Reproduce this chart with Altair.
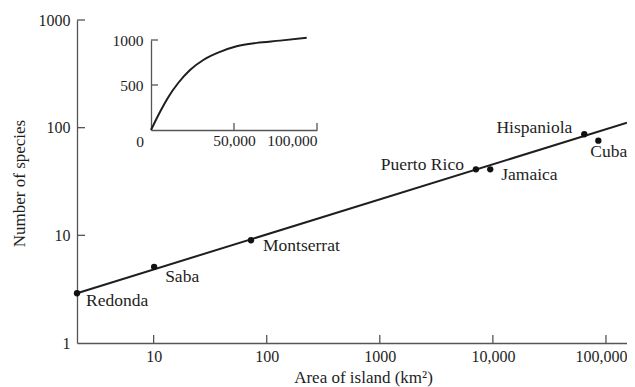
import altair as alt
import pandas as pd

# ---- data ----
islands = ["Redonda", "Saba", "Montserrat", "Puerto Rico", "Jamaica", "Hispaniola", "Cuba"]
areas = [2.1, 10.1, 72.6, 7080, 9480, 64300, 85600]
species = [2.9, 5.1, 9.0, 41, 41, 86.8, 75.7]

fit_area = [2.1, 153500]
fit_species = [2.9, 111]

x_ticks = [10, 100, 1000, 10000, 100000]
y_ticks = [1, 10, 100, 1000]

inset_area = [0, 5400, 10400, 16500, 23500, 31500, 41600, 51600, 63700, 77700, 93800]
inset_species = [0, 200, 365, 525, 667, 778, 868, 930, 968, 993, 1026]
inset_x_ticks = [50000, 100000]
inset_y_ticks = [500, 1000]

FONT = "Liberation Serif"
INK = "#1e1e1e"

pts = pd.DataFrame({"island": islands, "area": areas, "species": species})
fit = pd.DataFrame({"area": fit_area, "species": fit_species})
xt = pd.DataFrame({"area": x_ticks})
yt = pd.DataFrame({"species": y_ticks[1:]})
ins = pd.DataFrame({"a": inset_area, "s": inset_species})
ixt = pd.DataFrame({"a": inset_x_ticks})
iyt = pd.DataFrame({"s": inset_y_ticks})
origin = pd.DataFrame({"a": [0], "s": [0], "t": ["0"]})

W, H = 550, 323

x_scale = alt.Scale(type="log", domain=[2.1, 153500], nice=False)
y_scale = alt.Scale(type="log", domain=[1, 1000], nice=False)

x_axis = alt.Axis(
    values=x_ticks,
    labelExpr="datum.value >= 10000 ? format(datum.value, ',') : format(datum.value, 'd')",
    labelOffset={"condition": {"test": "datum.value >= 100000", "value": -5}, "value": 0},
    title="Area of island (km²)",
    labelFontSize=16, labelPadding=5, titleFontSize=17,
    titleX=286, titleY=34, titleBaseline="middle",
)
y_axis = alt.Axis(
    values=y_ticks, format="d",
    title="Number of species",
    labelFontSize=16, labelPadding=7, titleFontSize=17,
    titleX=-58, titleY=163, titleAngle=270, titleBaseline="middle", titleAlign="center",
)

X = alt.X("area:Q", scale=x_scale, axis=x_axis)
Y = alt.Y("species:Q", scale=y_scale, axis=y_axis)

line = alt.Chart(fit).mark_line(color=INK, strokeWidth=2).encode(x=X, y=Y)
dots = alt.Chart(pts).mark_circle(color="#111", opacity=1, size=40).encode(x=X, y=Y)

offsets = {
    "Redonda": ("left", 9, 8),
    "Saba": ("left", 11, 10),
    "Montserrat": ("left", 12, 6),
    "Puerto Rico": ("right", -12, -4),
    "Jamaica": ("left", 11, 6),
    "Hispaniola": ("right", -12, -6),
    "Cuba": ("left", -8, 11),
}
label_layers = []
for name in islands:
    al, dx, dy = offsets[name]
    label_layers.append(
        alt.Chart(pts[pts.island == name]).mark_text(
            align=al, baseline="middle", dx=dx, dy=dy, font=FONT, fontSize=17.5, color=INK
        ).encode(x=X, y=Y, text="island:N")
    )

xtick_rules = alt.Chart(xt).mark_rule(color="#555", strokeWidth=1.3).encode(
    x=X, y=alt.value(H), y2=alt.value(H - 8)
)
ytick_rules = alt.Chart(yt).mark_rule(color="#555", strokeWidth=1.3).encode(
    y=Y, x=alt.value(0), x2=alt.value(8)
)

main = alt.layer(line, dots, xtick_rules, ytick_rules, *label_layers)

# ---- inset ----
ix_scale = alt.Scale(domain=[0, 100000], range=[74, 240], nice=False, zero=True)
iy_scale = alt.Scale(domain=[0, 1000], range=[110, 20], nice=False, zero=True)
IX = alt.X("a:Q", scale=ix_scale, axis=alt.Axis(
    orient="bottom", offset=110 - H, values=inset_x_ticks,
    labelExpr="format(datum.value, ',')",
    title=None, labelFontSize=15.5, labelPadding=3,
))
IY = alt.Y("s:Q", scale=iy_scale, axis=alt.Axis(
    orient="left", offset=-74, values=inset_y_ticks,
    labelExpr="format(datum.value, 'd')",
    title=None, labelFontSize=15.5, labelPadding=8,
))

curve = alt.Chart(ins).mark_line(color=INK, strokeWidth=2, interpolate="monotone").encode(x=IX, y=IY)
ixt_rules = alt.Chart(ixt).mark_rule(color="#555", strokeWidth=1.3).encode(
    x=IX, y=alt.value(110), y2=alt.value(103)
)
iyt_rules = alt.Chart(iyt).mark_rule(color="#555", strokeWidth=1.3).encode(
    y=IY, x=alt.value(74), x2=alt.value(81)
)
zero_lbl = alt.Chart(origin).mark_text(
    font=FONT, fontSize=15.5, color=INK, dx=-11, dy=12, baseline="middle"
).encode(x=IX, y=IY, text="t:N")

inset = alt.layer(curve, ixt_rules, iyt_rules, zero_lbl)

chart = (
    alt.layer(main, inset)
    .resolve_scale(x="independent", y="independent")
    .properties(
        width=W, height=H,
        autosize=alt.AutoSizeParams(type="none"),
        padding={"left": 69, "top": 12, "right": 0, "bottom": 44},
        background="white",
    )
    .configure_view(stroke=None)
    .configure_axis(
        labelFont=FONT, titleFont=FONT, grid=False, ticks=False,
        domainColor="#555", domainWidth=1.3,
        labelColor=INK, titleColor=INK, titleFontWeight="normal",
    )
)

chart.save("out.html", embed_options={"renderer": "svg", "actions": False})
